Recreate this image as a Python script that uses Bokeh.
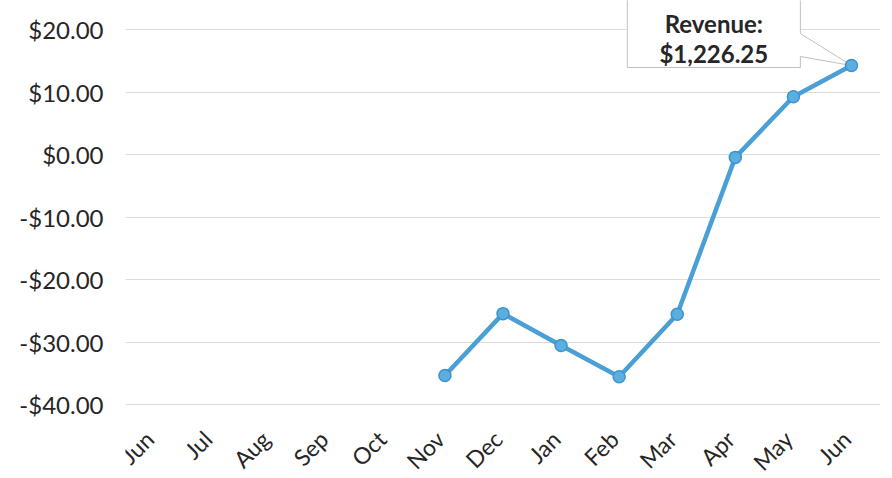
import math
from bokeh.plotting import figure
from bokeh.models import FixedTicker, Range1d
from bokeh.core.properties import value
from bokeh.embed import file_html
from bokeh.resources import INLINE

months = ["Jun", "Jul", "Aug", "Sep", "Oct", "Nov", "Dec", "Jan", "Feb", "Mar", "Apr", "May", "Jun"]
profit = [None, None, None, None, None, -35.3, -25.4, -30.5, -35.5, -25.5, -0.4, 9.3, 14.3]
y_ticks = [-40, -30, -20, -10, 0, 10, 20]
y_tick_labels = ["-$40.00", "-$30.00", "-$20.00", "-$10.00", "$0.00", "$10.00", "$20.00"]
callout_lines = ["Revenue:", "$1,226.25"]

xs = list(range(len(months)))
ys = [float("nan") if v is None else v for v in profit]
px = [x for x, v in zip(xs, profit) if v is not None]
py = [v for v in profit if v is not None]

FONT = "Lato"
TEXT_COLOR = "#262626"

p = figure(width=884, height=478, output_backend="svg", toolbar_location=None,
           x_range=Range1d(-0.5, len(months) - 0.5), y_range=Range1d(-51.78, 24.7),
           min_border_left=125, min_border_right=4, min_border_top=0, min_border_bottom=0)
p.outline_line_color = None
p.background_fill_color = "white"
p.border_fill_color = "white"

# y axis
p.yaxis.ticker = FixedTicker(ticks=y_ticks)
p.yaxis.major_label_overrides = {t: l for t, l in zip(y_ticks, y_tick_labels)}
p.yaxis.axis_line_color = None
p.yaxis.major_tick_line_color = None
p.yaxis.minor_tick_line_color = None
p.yaxis.major_tick_out = 0
p.yaxis.major_tick_in = 0
p.yaxis.major_label_text_font = FONT
p.yaxis.major_label_text_color = TEXT_COLOR
p.yaxis.major_label_text_font_size = "24px"
p.yaxis.major_label_standoff = 22

# x axis: category labels placed along the x scale, rotated 45 degrees
p.xaxis.visible = False
label_y = y_ticks[0] - 4.8
p.text(xs, [label_y] * len(xs), text=months, angle=math.pi / 4,
       text_font=value(FONT), text_font_size="23px", text_color=TEXT_COLOR,
       text_align="right", text_baseline="middle", x_offset=-5)

p.xgrid.grid_line_color = None
p.ygrid.ticker = FixedTicker(ticks=y_ticks)
p.ygrid.grid_line_color = "#dcdcdc"
p.ygrid.grid_line_width = 1

# callout anchored to last point
lx, ly = px[-1], py[-1]
bl, br = lx - 3.86, lx - 0.88
bb, bt = ly - 0.32, 30
n1, n2 = ly + 5.12, ly + 1.44
p.patch([bl, bl, br, br, lx, br, br], [bb, bt, bt, n1, ly, n2, bb],
        fill_color="white", line_color="#c0c0c0", line_width=1)
cx = (bl + br) / 2
p.text([cx, cx], [ly + 6.7, ly + 1.95], text=callout_lines,
       text_font=value(FONT), text_font_style="bold", text_font_size="24px",
       text_align="center", text_baseline="alphabetic", text_color=TEXT_COLOR)

# series
p.line(xs, ys, line_color="#4a9fd6", line_width=4.5)
p.scatter(px, py, size=12, fill_color="#5aaee0", line_color="#3f93cc", line_width=1.5)

open("out.html", "w").write(file_html(p, INLINE))
